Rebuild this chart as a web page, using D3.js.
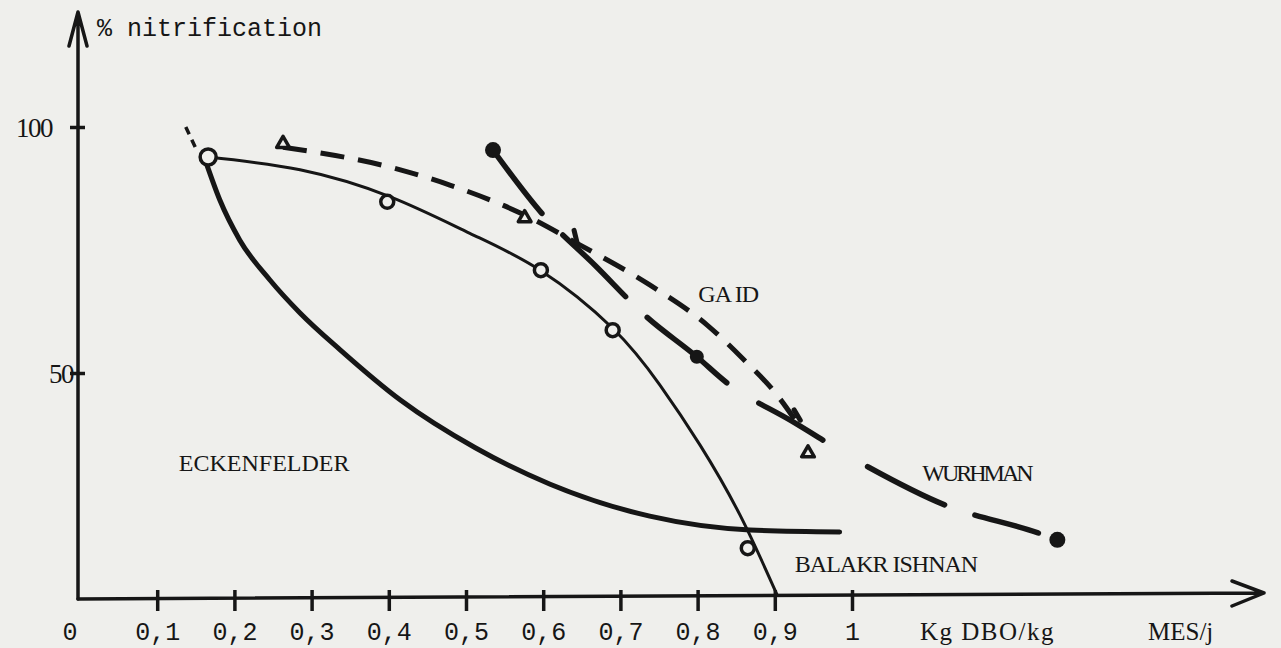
<!DOCTYPE html>
<html>
<head>
<meta charset="utf-8">
<script src="https://cdn.jsdelivr.net/npm/d3@7"></script>
<style>
  html, body { margin: 0; padding: 0; background: #efefec; }
  svg { display: block; }
</style>
</head>
<body>
<svg id="chart"></svg>
<script>
const width = 1281, height = 648;

// x: Kg DBO/kg MES/j, y: % nitrification
const xTicks = [0.1, 0.2, 0.3, 0.4, 0.5, 0.6, 0.7, 0.8, 0.9, 1];
const xTickLabels = ['0,1', '0,2', '0,3', '0,4', '0,5', '0,6', '0,7', '0,8', '0,9', '1'];
const yTicks = [50, 100];
const yTickLabels = ['50', '100'];

// Eckenfelder (thick solid curve), with a short dashed start above the first point
const eckenfelderStart = [[0.137, 100.0], [0.150, 95.7]];
const eckenfelder = [
  [0.163, 92.9], [0.181, 85.2], [0.207, 77.0], [0.246, 68.9], [0.285, 62.2],
  [0.337, 54.7], [0.415, 44.5], [0.512, 34.8], [0.609, 27.4], [0.738, 20.9],
  [0.868, 18.1], [0.984, 17.7]
];

// Balakrishnan (thin solid curve, open circles)
const balakrishnanCurve = [
  [0.166, 93.9], [0.285, 91.3], [0.402, 85.8], [0.505, 78.4], [0.596, 70.9],
  [0.690, 59.1], [0.751, 47.6], [0.803, 35.4], [0.855, 21.1], [0.903, 4.9]
];
const balakrishnanPoints = [
  [0.166, 93.9], [0.398, 84.8], [0.597, 70.9], [0.690, 58.7], [0.865, 14.4]
];

// Gaid (dashed curve, open triangles)
const gaidCurve = [
  [0.263, 95.9], [0.415, 91.3], [0.479, 88.2], [0.576, 82.1], [0.648, 76.0],
  [0.738, 67.9], [0.812, 59.8], [0.858, 53.0], [0.903, 45.5], [0.930, 39.6]
];
const gaidPoints = [[0.263, 96.6], [0.576, 81.5], [0.943, 33.7]];

// Wurhman (long dashes, filled dots)
const wurhmanCurve = [
  [0.535, 95.3], [0.598, 82.5], [0.667, 71.9], [0.734, 61.4], [0.799, 53.3],
  [0.838, 48.0], [0.920, 40.4], [1.021, 30.9], [1.120, 23.2], [1.241, 17.5], [1.266, 16.1]
];
const wurhmanPoints = [[0.535, 95.3], [0.799, 53.3], [1.266, 16.1]];
const wurhmanBarbs = [[0.644, 76.4, 0.640, 79.0], [0.933, 40.4, 0.925, 42.5]];

const curveLabels = [
  { text: 'ECKENFELDER', x: 0.128, y: 30.0 },
  { text: 'GA ID', x: 0.801, y: 64.5 },
  { text: 'WURHMAN', x: 1.091, y: 28.0 },
  { text: 'BALAKR ISHNAN', x: 0.926, y: 9.5 }
];

const ink = '#161616';
const paper = '#efefec';
const axisY = 599, axisX = 78;

const svg = d3.select('#chart').attr('width', width).attr('height', height);

const x = d3.scaleLinear().domain([0, 1]).range([80, 852]);
const y = d3.scaleLinear().domain([50, 100]).range([373, 127]);

const line = d3.line().x(d => x(d[0])).y(d => y(d[1])).curve(d3.curveMonotoneX);
const smoothLine = d3.line().x(d => x(d[0])).y(d => y(d[1])).curve(d3.curveNatural);

// axes lines with arrows
svg.append('path')
  .attr('d', `M${axisX},${axisY} L${axisX},12 M${axisX - 9},46 L${axisX},12 L${axisX + 9},46`)
  .attr('fill', 'none').attr('stroke', ink).attr('stroke-width', 3.5)
  .attr('stroke-linejoin', 'round').attr('stroke-linecap', 'round');
svg.append('path')
  .attr('d', `M${axisX},${axisY} L1264,${axisY - 6} M1232,${axisY - 18} L1264,${axisY - 6} L1232,${axisY + 7}`)
  .attr('fill', 'none').attr('stroke', ink).attr('stroke-width', 3.5)
  .attr('stroke-linejoin', 'round').attr('stroke-linecap', 'round');

// x axis
const gx = svg.append('g').attr('transform', `translate(0,${axisY})`)
  .call(d3.axisBottom(x).tickValues(xTicks).tickFormat((d, i) => xTickLabels[i]).tickSize(12));
gx.select('.domain').remove();
gx.selectAll('.tick line').attr('y1', -9).attr('y2', 12).attr('stroke', ink).attr('stroke-width', 3.5);
gx.selectAll('.tick text')
  .attr('y', 41).attr('dy', 0)
  .attr('fill', ink)
  .style('font-family', '"Liberation Mono", monospace')
  .style('font-size', '25px');

// y axis
const gy = svg.append('g').attr('transform', `translate(${axisX},0)`)
  .call(d3.axisLeft(y).tickValues(yTicks).tickFormat((d, i) => yTickLabels[i]).tickSize(8));
gy.select('.domain').remove();
gy.selectAll('.tick line').attr('x1', -8).attr('x2', 7).attr('stroke', ink).attr('stroke-width', 3.5);
gy.selectAll('.tick text')
  .attr('x', d => d === 100 ? -26 : -5).attr('dy', '0.35em')
  .attr('fill', ink)
  .style('font-family', '"Liberation Serif", serif')
  .style('font-size', '27px')
  .style('letter-spacing', '-1.5px');

// axis texts
const monoText = (t, px, py, size, anchor) => svg.append('text')
  .attr('x', px).attr('y', py).attr('text-anchor', anchor || 'start')
  .attr('fill', ink).style('font-family', '"Liberation Mono", monospace')
  .style('font-size', size + 'px').text(t);
monoText('% nitrification', 97, 36, 25);
monoText('0', 70, 640, 25, 'middle');

const serifText = (t, px, py, size) => svg.append('text')
  .attr('x', px).attr('y', py).attr('fill', ink)
  .style('font-family', '"Liberation Serif", serif')
  .style('font-size', size + 'px').text(t);
serifText('Kg DBO/kg', 920, 640, 25).style('letter-spacing', '1.5px');
serifText('MES/j', 1148, 640, 25);

// curves
svg.append('path').datum(eckenfelderStart).attr('d', line)
  .attr('fill', 'none').attr('stroke', ink).attr('stroke-width', 3.5)
  .attr('stroke-dasharray', '8,6');
svg.append('path').datum(eckenfelder).attr('d', line)
  .attr('fill', 'none').attr('stroke', ink).attr('stroke-width', 5)
  .attr('stroke-linecap', 'round');
svg.append('path').datum(balakrishnanCurve).attr('d', smoothLine)
  .attr('fill', 'none').attr('stroke', ink).attr('stroke-width', 3)
  .attr('stroke-linecap', 'round');
svg.append('path').datum(gaidCurve).attr('d', line)
  .attr('fill', 'none').attr('stroke', ink).attr('stroke-width', 5)
  .attr('stroke-dasharray', '24,14');
svg.append('path').datum(wurhmanCurve).attr('d', line)
  .attr('fill', 'none').attr('stroke', ink).attr('stroke-width', 5.5)
  .attr('stroke-linecap', 'round')
  .attr('stroke-dasharray', '80,30,88,30,103,38,74,52,86,32,66,200');

// barbs on Wurhman
svg.selectAll('.barb').data(wurhmanBarbs).enter().append('line')
  .attr('class', 'barb')
  .attr('x1', d => x(d[0])).attr('y1', d => y(d[1]))
  .attr('x2', d => x(d[2])).attr('y2', d => y(d[3]))
  .attr('stroke', ink).attr('stroke-width', 5).attr('stroke-linecap', 'round');

// markers
svg.selectAll('.bal').data(balakrishnanPoints).enter().append('circle')
  .attr('class', 'bal')
  .attr('cx', d => x(d[0])).attr('cy', d => y(d[1]))
  .attr('r', (d, i) => i === 0 ? 8 : 6.5)
  .attr('fill', paper).attr('stroke', ink).attr('stroke-width', 3.5);

const tri = d3.symbol().type(d3.symbolTriangle).size(70);
svg.selectAll('.gaid').data(gaidPoints).enter().append('path')
  .attr('class', 'gaid')
  .attr('d', tri)
  .attr('transform', d => `translate(${x(d[0])},${y(d[1])})`)
  .attr('fill', paper).attr('stroke', ink).attr('stroke-width', 3.5)
  .attr('stroke-linejoin', 'round');

svg.selectAll('.wur').data(wurhmanPoints).enter().append('circle')
  .attr('class', 'wur')
  .attr('cx', d => x(d[0])).attr('cy', d => y(d[1]))
  .attr('r', (d, i) => i === 1 ? 7 : 8)
  .attr('fill', ink);

// curve names
svg.selectAll('.clabel').data(curveLabels).enter().append('text')
  .attr('class', 'clabel')
  .attr('x', d => x(d.x)).attr('y', d => y(d.y))
  .attr('fill', ink)
  .style('font-family', '"Liberation Serif", serif')
  .style('font-size', '24px')
  .style('letter-spacing', d => d.text === 'WURHMAN' ? '-3px' : d.text === 'ECKENFELDER' ? '0px' : '-1px')
  .text(d => d.text);
</script>
</body>
</html>
